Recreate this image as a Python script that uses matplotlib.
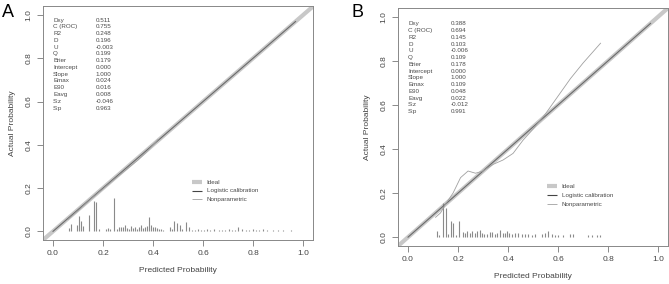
import matplotlib
matplotlib.use('Agg')
import matplotlib.pyplot as plt

# stats printed in the top-left corner of each panel
stat_names = ['Dxy', 'C (ROC)', 'R2', 'D', 'U', 'Q', 'Brier', 'Intercept',
              'Slope', 'Emax', 'E90', 'Eavg', 'S:z', 'S:p']
stats_a = ['0.511', '0.755', '0.248', '0.196', '-0.003', '0.199', '0.179',
           '0.000', '1.000', '0.024', '0.016', '0.008', '-0.046', '0.963']
stats_b = ['0.388', '0.694', '0.145', '0.103', '-0.006', '0.109', '0.178',
           '0.000', '1.000', '0.109', '0.048', '0.022', '-0.012', '0.991']

# nonparametric calibration curves
np_x_a = [0.06, 0.10, 0.15, 0.20, 0.25, 0.30, 0.34, 0.37, 0.40, 0.42]
np_y_a = [0.055, 0.095, 0.148, 0.196, 0.245, 0.292, 0.330, 0.362, 0.398, 0.425]
np_x_b = [0.11, 0.13, 0.15, 0.18, 0.21, 0.24, 0.27, 0.30, 0.34, 0.38, 0.42,
          0.46, 0.50, 0.55, 0.60, 0.65, 0.70, 0.77]
np_y_b = [0.09, 0.11, 0.15, 0.20, 0.27, 0.30, 0.29, 0.30, 0.33, 0.35, 0.38,
          0.44, 0.49, 0.56, 0.64, 0.72, 0.79, 0.88]

# distribution of predicted probabilities (spike histogram)
spike_x_a = [0.064, 0.072, 0.095, 0.104, 0.112, 0.120, 0.144, 0.164, 0.172,
             0.184, 0.212, 0.220, 0.228, 0.244, 0.256, 0.264, 0.272, 0.280,
             0.288, 0.296, 0.304, 0.312, 0.320, 0.328, 0.336, 0.344, 0.352,
             0.360, 0.368, 0.376, 0.384, 0.392, 0.400, 0.408, 0.416, 0.424,
             0.432, 0.440, 0.468, 0.476, 0.484, 0.495, 0.508, 0.516, 0.532,
             0.544, 0.556, 0.568, 0.580, 0.592, 0.604, 0.616, 0.628, 0.644,
             0.664, 0.676, 0.688, 0.704, 0.716, 0.728, 0.740, 0.756, 0.772,
             0.784, 0.800, 0.812, 0.824, 0.840, 0.856, 0.880, 0.900, 0.920,
             0.950]
spike_h_a = [0.015, 0.035, 0.027, 0.070, 0.050, 0.025, 0.075, 0.142, 0.134,
             0.010, 0.012, 0.015, 0.010, 0.153, 0.012, 0.020, 0.022, 0.018,
             0.028, 0.015, 0.012, 0.025, 0.015, 0.020, 0.012, 0.022, 0.028,
             0.015, 0.018, 0.025, 0.068, 0.030, 0.018, 0.022, 0.015, 0.010,
             0.012, 0.008, 0.018, 0.012, 0.049, 0.040, 0.030, 0.012, 0.045,
             0.018, 0.008, 0.008, 0.010, 0.008, 0.008, 0.012, 0.008, 0.010,
             0.008, 0.008, 0.008, 0.012, 0.008, 0.008, 0.018, 0.010, 0.008,
             0.008, 0.010, 0.008, 0.008, 0.012, 0.008, 0.008, 0.008, 0.008,
             0.008]
spike_x_b = [0.115, 0.125, 0.141, 0.151, 0.161, 0.173, 0.181, 0.190, 0.203,
             0.219, 0.228, 0.237, 0.248, 0.257, 0.268, 0.275, 0.288, 0.295,
             0.304, 0.315, 0.328, 0.337, 0.348, 0.355, 0.368, 0.379, 0.388,
             0.397, 0.405, 0.415, 0.428, 0.441, 0.455, 0.468, 0.481, 0.495,
             0.508, 0.535, 0.548, 0.561, 0.575, 0.588, 0.601, 0.621, 0.648,
             0.661, 0.721, 0.735, 0.755, 0.768]
spike_h_b = [0.026, 0.010, 0.155, 0.132, 0.014, 0.071, 0.064, 0.010, 0.074,
             0.023, 0.018, 0.026, 0.021, 0.026, 0.018, 0.029, 0.032, 0.017,
             0.015, 0.015, 0.023, 0.023, 0.015, 0.018, 0.033, 0.018, 0.021,
             0.029, 0.018, 0.014, 0.018, 0.017, 0.014, 0.015, 0.014, 0.011,
             0.012, 0.014, 0.021, 0.026, 0.014, 0.011, 0.011, 0.011, 0.012,
             0.012, 0.009, 0.009, 0.009, 0.009]

ticks = [0.0, 0.2, 0.4, 0.6, 0.8, 1.0]
tick_labels = ['0.0', '0.2', '0.4', '0.6', '0.8', '1.0']
legend_labels = ['Ideal', 'Logistic calibration', 'Nonparametric']

plt.rcParams['font.family'] = ['Liberation Sans', 'DejaVu Sans']

fig = plt.figure(figsize=(6.69, 2.84), dpi=100)
ax_a = fig.add_axes([0.0643, 0.155, 0.4036, 0.8225])
ax_b = fig.add_axes([0.595, 0.134, 0.4036, 0.838])


def draw_panel(ax, stats, np_x, np_y, sx, sh, stat_top, stat_step, leg_y):
    ax.set_xlim(-0.04, 1.04)
    ax.set_ylim(-0.04, 1.04)
    # ideal line, logistic calibration, nonparametric
    ax.plot([-0.04, 1.04], [-0.04, 1.04], color='#c8c8c8', lw=3.0,
            solid_capstyle='butt', zorder=2)
    ax.plot([0.0, 0.97], [0.0, 0.97], color='#6a6a6a', lw=0.8, zorder=3)
    ax.plot(np_x, np_y, color='#a0a0a0', lw=0.6, zorder=3)
    ax.vlines(sx, 0.0, sh, color='#8a8a8a', lw=0.8, zorder=2)

    for i, (name, val) in enumerate(zip(stat_names, stats)):
        y = stat_top - i * stat_step
        ax.text(0.0, y, name, fontsize=4.5, color='#4a4a4a', va='center')
        ax.text(0.17, y, val, fontsize=4.5, color='#4a4a4a', va='center')

    # legend drawn by hand, as R does
    styles = [('#c8c8c8', 3.0), ('#444444', 0.8), ('#a0a0a0', 0.6)]
    for (col, lw), lab, y in zip(styles, legend_labels, leg_y):
        ax.plot([0.556, 0.596], [y, y], color=col, lw=lw,
                solid_capstyle='butt')
        ax.text(0.615, y, lab, fontsize=4.5, color='#4a4a4a', va='center')

    ax.set_xticks(ticks)
    ax.set_xticklabels(tick_labels)
    ax.set_yticks(ticks)
    ax.set_yticklabels(tick_labels, rotation=90, va='center')
    ax.tick_params(axis='both', length=4, width=0.6, color='#777777',
                   labelsize=6.0, labelcolor='#444444', pad=3.5)
    for sp in ax.spines.values():
        sp.set_color('#888888')
        sp.set_linewidth(0.7)
    ax.set_xlabel('Predicted Probability', fontsize=6.0, color='#444444',
                  labelpad=7)
    ax.set_ylabel('Actual Probability', fontsize=6.0, color='#444444',
                  labelpad=7)


draw_panel(ax_a, stats_a, np_x_a, np_y_a, spike_x_a, spike_h_a,
           0.977, 0.0313, [0.227, 0.187, 0.148])
draw_panel(ax_b, stats_b, np_x_b, np_y_b, spike_x_b, spike_h_b,
           0.968, 0.0307, [0.232, 0.191, 0.150])

fig.text(0.003, 0.985, 'A', fontsize=13, va='top', ha='left')
fig.text(0.525, 0.985, 'B', fontsize=13, va='top', ha='left')

fig.savefig('out.png', dpi=100)
